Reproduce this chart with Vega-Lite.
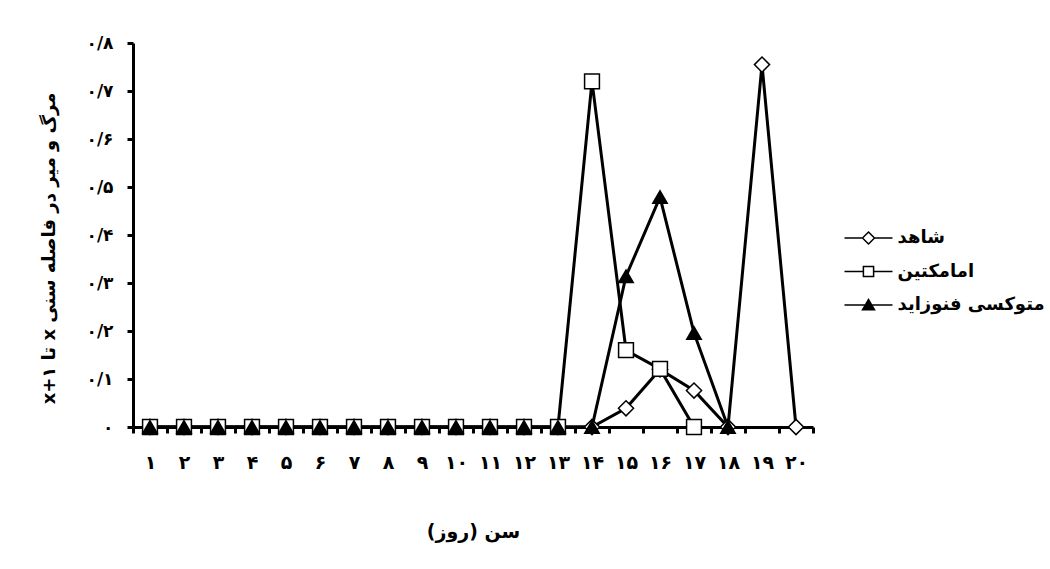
{
  "$schema": "https://vega.github.io/schema/vega-lite/v6.json",
  "width": 680,
  "height": 384,
  "autosize": {"type": "none"},
  "padding": {"left": 133, "top": 43, "right": 237, "bottom": 142},
  "background": "white",
  "config": {
    "view": {"stroke": null},
    "font": "DejaVu Sans",
    "axis": {
      "domainColor": "black",
      "domainWidth": 3,
      "tickColor": "black",
      "tickWidth": 3,
      "tickSize": 6,
      "labelColor": "black",
      "labelFont": "DejaVu Sans",
      "labelFontWeight": "bold",
      "labelFontSize": 17,
      "titleColor": "black",
      "titleFont": "DejaVu Sans",
      "titleFontWeight": "bold",
      "titleFontSize": 18,
      "grid": false
    }
  },
  "datasets": {
    "rows": [
      {"day": "۱", "s": "شاهد", "v": 0},
      {"day": "۲", "s": "شاهد", "v": 0},
      {"day": "۳", "s": "شاهد", "v": 0},
      {"day": "۴", "s": "شاهد", "v": 0},
      {"day": "۵", "s": "شاهد", "v": 0},
      {"day": "۶", "s": "شاهد", "v": 0},
      {"day": "۷", "s": "شاهد", "v": 0},
      {"day": "۸", "s": "شاهد", "v": 0},
      {"day": "۹", "s": "شاهد", "v": 0},
      {"day": "۱۰", "s": "شاهد", "v": 0},
      {"day": "۱۱", "s": "شاهد", "v": 0},
      {"day": "۱۲", "s": "شاهد", "v": 0},
      {"day": "۱۳", "s": "شاهد", "v": 0},
      {"day": "۱۴", "s": "شاهد", "v": 0},
      {"day": "۱۵", "s": "شاهد", "v": 0.039},
      {"day": "۱۶", "s": "شاهد", "v": 0.12},
      {"day": "۱۷", "s": "شاهد", "v": 0.076},
      {"day": "۱۸", "s": "شاهد", "v": 0},
      {"day": "۱۹", "s": "شاهد", "v": 0.755},
      {"day": "۲۰", "s": "شاهد", "v": 0},
      {"day": "۱", "s": "امامکتین", "v": 0},
      {"day": "۲", "s": "امامکتین", "v": 0},
      {"day": "۳", "s": "امامکتین", "v": 0},
      {"day": "۴", "s": "امامکتین", "v": 0},
      {"day": "۵", "s": "امامکتین", "v": 0},
      {"day": "۶", "s": "امامکتین", "v": 0},
      {"day": "۷", "s": "امامکتین", "v": 0},
      {"day": "۸", "s": "امامکتین", "v": 0},
      {"day": "۹", "s": "امامکتین", "v": 0},
      {"day": "۱۰", "s": "امامکتین", "v": 0},
      {"day": "۱۱", "s": "امامکتین", "v": 0},
      {"day": "۱۲", "s": "امامکتین", "v": 0},
      {"day": "۱۳", "s": "امامکتین", "v": 0},
      {"day": "۱۴", "s": "امامکتین", "v": 0.72},
      {"day": "۱۵", "s": "امامکتین", "v": 0.16},
      {"day": "۱۶", "s": "امامکتین", "v": 0.121},
      {"day": "۱۷", "s": "امامکتین", "v": 0},
      {"day": "۱", "s": "متوکسی فنوزاید", "v": 0},
      {"day": "۲", "s": "متوکسی فنوزاید", "v": 0},
      {"day": "۳", "s": "متوکسی فنوزاید", "v": 0},
      {"day": "۴", "s": "متوکسی فنوزاید", "v": 0},
      {"day": "۵", "s": "متوکسی فنوزاید", "v": 0},
      {"day": "۶", "s": "متوکسی فنوزاید", "v": 0},
      {"day": "۷", "s": "متوکسی فنوزاید", "v": 0},
      {"day": "۸", "s": "متوکسی فنوزاید", "v": 0},
      {"day": "۹", "s": "متوکسی فنوزاید", "v": 0},
      {"day": "۱۰", "s": "متوکسی فنوزاید", "v": 0},
      {"day": "۱۱", "s": "متوکسی فنوزاید", "v": 0},
      {"day": "۱۲", "s": "متوکسی فنوزاید", "v": 0},
      {"day": "۱۳", "s": "متوکسی فنوزاید", "v": 0},
      {"day": "۱۴", "s": "متوکسی فنوزاید", "v": 0},
      {"day": "۱۵", "s": "متوکسی فنوزاید", "v": 0.314},
      {"day": "۱۶", "s": "متوکسی فنوزاید", "v": 0.479},
      {"day": "۱۷", "s": "متوکسی فنوزاید", "v": 0.196},
      {"day": "۱۸", "s": "متوکسی فنوزاید", "v": 0}
    ]
  },
  "data": {"name": "rows"},
  "encoding": {
    "x": {
      "field": "day",
      "type": "nominal",
      "sort": null,
      "scale": {"type": "band", "paddingInner": 0, "paddingOuter": 0},
      "axis": {
        "title": "سن (روز)",
        "labelAngle": 0,
        "tickBand": "extent",
        "labelPadding": 20,
        "labelFontSize": 19,
        "titleFontSize": 19,
        "titlePadding": 50
      }
    },
    "y": {
      "field": "v",
      "type": "quantitative",
      "scale": {"domain": [0, 0.8], "nice": false, "zero": true},
      "axis": {
        "title": "‫مرگ و میر در فاصله سنی x تا x+۱‬",
        "values": [0, 0.1, 0.2, 0.3, 0.4, 0.5, 0.6, 0.7, 0.8],
        "labelExpr": "datum.value == 0 ? '۰' : '۰/' + ['۰','۱','۲','۳','۴','۵','۶','۷','۸','۹'][round(datum.value*10)]",
        "labelPadding": 14,
        "titlePadding": 28,
        "titleY": 205
      }
    }
  },
  "layer": [
    {
      "mark": {"type": "line", "color": "black", "strokeWidth": 3},
      "encoding": {"detail": {"field": "s"}}
    },
    {
      "mark": {"type": "point", "filled": false, "stroke": "black", "strokeWidth": 1.5, "opacity": 1},
      "encoding": {
        "shape": {
          "field": "s",
          "scale": {"domain": ["شاهد", "امامکتین", "متوکسی فنوزاید"], "range": ["diamond", "square", "triangle-up"]},
          "legend": null
        },
        "fill": {
          "field": "s",
          "scale": {"domain": ["شاهد", "امامکتین", "متوکسی فنوزاید"], "range": ["white", "white", "black"]},
          "legend": null
        },
        "size": {
          "field": "s",
          "scale": {"domain": ["شاهد", "امامکتین", "متوکسی فنوزاید"], "range": [230, 210, 310]},
          "legend": null
        }
      }
    },
    {
      "mark": {"type": "point", "filled": false, "stroke": "black", "strokeWidth": 2, "opacity": 0, "size": 144},
      "encoding": {
        "shape": {
          "field": "s",
          "scale": {
            "domain": ["شاهد", "امامکتین", "متوکسی فنوزاید"],
            "range": [
              "M-4,0H-1M1,0H4M-1,0L0,-1L1,0L0,1Z",
              "M-4,0H-0.85M0.85,0H4M-0.85,-0.85H0.85V0.85H-0.85Z",
              "M-4,0H4M-1,0.8L0,-0.9L1,0.8ZM-0.12,-0.7H0.12M-0.24,-0.5H0.24M-0.35,-0.3H0.35M-0.47,-0.1H0.47M-0.59,0.1H0.59M-0.71,0.3H0.71M-0.82,0.5H0.82M-0.94,0.7H0.94"
            ]
          }
        },
        "fill": {
          "field": "s",
          "scale": {"domain": ["شاهد", "امامکتین", "متوکسی فنوزاید"], "range": ["white", "white", "black"]},
          "legend": {
            "title": null,
            "orient": "none",
            "legendX": 726.5,
            "legendY": 186,
            "padding": 0,
            "symbolSize": 144,
            "labelOffset": 20,
            "labelFont": "DejaVu Sans",
            "labelFontWeight": "bold",
            "labelFontSize": 18,
            "labelColor": "black",
            "rowPadding": 15.5,
            "labelLimit": 400,
            "encode": {
              "symbols": {
                "opacity": {"value": 1},
                "fillOpacity": {"value": 1},
                "stroke": {"value": "black"},
                "strokeOpacity": {"value": 1},
                "strokeWidth": {"value": 2}
              }
            }
          }
        }
      }
    }
  ],
  "resolve": {"scale": {"shape": "independent", "fill": "independent", "size": "independent"}}
}
